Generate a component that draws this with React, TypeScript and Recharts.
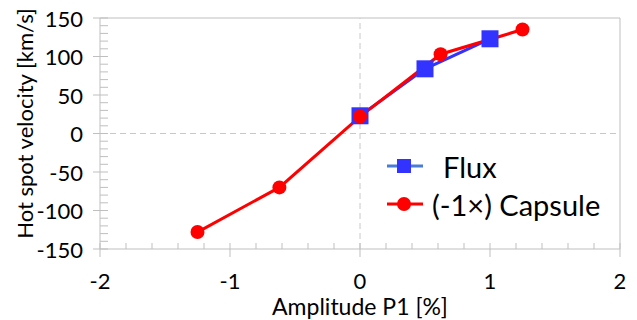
import { LineChart, Line, XAxis, YAxis, ReferenceLine, Legend, Label } from "recharts";

// values
const fluxAmplitude = [0, 0.5, 1];
const fluxVelocity = [23, 84, 123];
const capsuleAmplitude = [-1.25, -0.62, 0, 0.62, 1.25];
const capsuleVelocity = [-128, -70, 22, 103, 135];

const xTicks = [-2, -1.8, -1.6, -1.4, -1.2, -1, -0.8, -0.6, -0.4, -0.2, 0, 0.2, 0.4, 0.6, 0.8, 1, 1.2, 1.4, 1.6, 1.8, 2];
const xMajor = [-2, -1, 0, 1, 2];
const yTicks = [
  -150, -140, -130, -120, -110, -100, -90, -80, -70, -60, -50, -40, -30, -20, -10, 0,
  10, 20, 30, 40, 50, 60, 70, 80, 90, 100, 110, 120, 130, 140, 150,
];
const yMajor = [-150, -100, -50, 0, 50, 100, 150];

const fluxData = fluxAmplitude.map((x, i) => ({ x, y: fluxVelocity[i] }));
const capsuleData = capsuleAmplitude.map((x, i) => ({ x, y: capsuleVelocity[i] }));

const FONT = "Lato, 'Open Sans', sans-serif";
const AXIS = "#bfbfbf";
const BLUE = "#3333ff";
const RED = "#ff0000";

const XTick = ({ x, y, payload }: any) => {
  const major = xMajor.includes(payload.value);
  return (
    <g>
      <line x1={x} x2={x} y1={y - 6} y2={major ? y + 8 : y} stroke={AXIS} strokeWidth={1} />
      {major && (
        <text x={x} y={y + 31} textAnchor="middle" dominantBaseline="central" fontSize={22} fontFamily={FONT} fill="#000">
          {payload.value}
        </text>
      )}
    </g>
  );
};

const YTick = ({ x, y, payload }: any) => {
  const major = yMajor.includes(payload.value);
  return (
    <g>
      <line x1={major ? x - 7 : x} x2={x + 8} y1={y} y2={y} stroke={AXIS} strokeWidth={1} />
      {major && (
        <text x={x - 17} y={y} textAnchor="end" dominantBaseline="central" fontSize={22} fontFamily={FONT} fill="#000">
          {payload.value}
        </text>
      )}
    </g>
  );
};

const SquareDot = ({ cx, cy }: any) => (
  <rect x={cx - 8.5} y={cy - 8.5} width={17} height={17} fill={BLUE} />
);
const CircleDot = ({ cx, cy }: any) => <circle cx={cx} cy={cy} r={7} fill={RED} />;

const LegendBox = () => (
  <div style={{ fontFamily: FONT, fontSize: 29, color: "#000" }}>
    <div style={{ display: "flex", alignItems: "center", height: 38 }}>
      <svg width={58} height={20}>
        <line x1={2} x2={38} y1={10} y2={10} stroke="#4a7bd6" strokeWidth={3} />
        <rect x={12} y={3} width={14} height={14} fill={BLUE} />
      </svg>
      <span>Flux</span>
    </div>
    <div style={{ display: "flex", alignItems: "center", height: 38 }}>
      <svg width={47} height={20}>
        <line x1={2} x2={38} y1={10} y2={10} stroke={RED} strokeWidth={3} />
        <circle cx={19} cy={10} r={7} fill={RED} />
      </svg>
      <span>(-1×) Capsule</span>
    </div>
  </div>
);

export default function App() {
  return (
    <div style={{ position: "absolute", left: 0, top: 0, width: 637, height: 320, background: "#fff" }}>
      <LineChart width={637} height={320} margin={{ top: 18, right: 17, left: 0, bottom: 0 }}>
        <XAxis
          type="number"
          dataKey="x"
          domain={[-2, 2]}
          ticks={xTicks}
          interval={0}
          tick={<XTick />}
          tickLine={false}
          tickSize={0}
          tickMargin={0}
          height={71}
          stroke={AXIS}
          allowDuplicatedCategory={false}
        >
          <Label
            content={({ viewBox }: any) => (
              <text
                x={viewBox.x + viewBox.width / 2}
                y={viewBox.y + 57}
                textAnchor="middle"
                dominantBaseline="central"
                fontSize={23}
                fontFamily={FONT}
                fill="#000"
              >
                Amplitude P1 [%]
              </text>
            )}
          />
        </XAxis>
        <YAxis
          type="number"
          domain={[-150, 150]}
          ticks={yTicks}
          interval={0}
          tick={<YTick />}
          tickLine={false}
          tickSize={0}
          tickMargin={0}
          width={100}
          stroke={AXIS}
        >
          <Label
            content={({ viewBox }: any) => (
              <text
                x={viewBox.x + 24}
                y={viewBox.y + viewBox.height / 2 - 10}
                textAnchor="middle"
                dominantBaseline="central"
                transform={`rotate(-90, ${viewBox.x + 24}, ${viewBox.y + viewBox.height / 2 - 10})`}
                fontSize={22}
                fontFamily={FONT}
                fill="#000"
              >
                Hot spot velocity [km/s]
              </text>
            )}
          />
        </YAxis>
        <ReferenceLine y={150} stroke={AXIS} />
        <ReferenceLine x={2} stroke={AXIS} />
        <ReferenceLine y={0} stroke="#c8c8c8" strokeDasharray="6 4" />
        <ReferenceLine x={0} stroke="#c8c8c8" strokeDasharray="6 4" />
        <Line
          data={fluxData}
          dataKey="y"
          name="Flux"
          stroke={BLUE}
          strokeWidth={3}
          dot={<SquareDot />}
          activeDot={false}
          isAnimationActive={false}
        />
        <Line
          data={capsuleData}
          dataKey="y"
          name="(-1×) Capsule"
          stroke={RED}
          strokeWidth={3}
          dot={<CircleDot />}
          activeDot={false}
          isAnimationActive={false}
        />
        <Legend
          layout="vertical"
          align="center"
          verticalAlign="middle"
          content={<LegendBox />}
          wrapperStyle={{ left: 385, top: 147, width: 240 }}
        />
      </LineChart>
    </div>
  );
}
